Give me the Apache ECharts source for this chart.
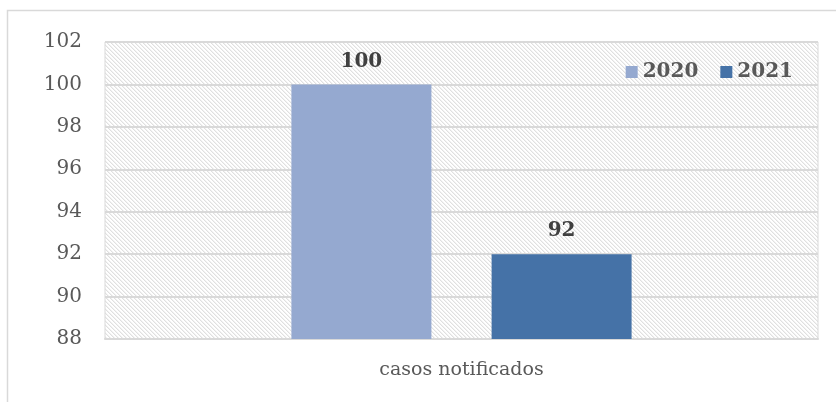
<!DOCTYPE html>
<html><head><meta charset="utf-8">
<script src="https://cdn.jsdelivr.net/npm/echarts@6/dist/echarts.min.js"></script>
<style>html,body{margin:0;padding:0;background:#fff}#c{width:836px;height:402px}</style>
</head><body><div id="c"></div>
<script>
var categories = ['casos notificados'];
var seriesNames = ['2020', '2021'];
var values2020 = [100];
var values2021 = [92];
var yTicks = [88, 90, 92, 94, 96, 98, 100, 102];

var pc = document.createElement('canvas');
pc.width = 8; pc.height = 8;
var ctx = pc.getContext('2d');
ctx.fillStyle = '#ffffff'; ctx.fillRect(0,0,8,8);
ctx.fillStyle = '#e0e0e0';
for (var i = 0; i < 8; i++) { ctx.fillRect(i, i, 1, 1); ctx.fillRect((i+4)%8, i, 1, 1); }
ctx.fillStyle = '#f2f2f2';
for (var i = 0; i < 8; i++) { ctx.fillRect((i+1)%8, i, 1, 1); ctx.fillRect((i+5)%8, i, 1, 1); }

var font = '"DejaVu Serif", "Liberation Serif", serif';
var chart = echarts.init(document.getElementById('c'));
chart.setOption({
  animation: false,
  graphic: [{type:'rect', shape:{x:7.5,y:10.5,width:860,height:420}, style:{fill:'none', stroke:'#d9d9d9', lineWidth:1.5}, z:-10}],
  grid: {left:105, right:18, top:42, bottom:63, show:true, backgroundColor:{image:pc, repeat:'repeat'}, borderColor:'#d9d9d9', borderWidth:1},
  legend: {right: 38, top: 57, itemWidth: 12, itemHeight: 12, itemGap: 22, icon:'rect',
    textStyle:{fontFamily:font, fontWeight:'bold', fontSize:20, color:'#595959'}, data: seriesNames},
  xAxis: {type:'category', data: categories, axisTick:{show:false},
    axisLine:{lineStyle:{color:'#d9d9d9', width:2}},
    axisLabel:{fontFamily:font, fontSize:19, color:'#595959', margin:22}},
  yAxis: {type:'value', min: yTicks[0], max: yTicks[yTicks.length-1], interval: 2,
    axisLine:{show:false}, axisTick:{show:false},
    splitLine:{lineStyle:{color:'#d9d9d9', width:2}},
    axisLabel:{fontFamily:font, fontSize:20, color:'#595959', margin:23}},
  series: [
    {name: seriesNames[0], type:'bar', data: values2020, barWidth:140, barGap:'43%', itemStyle:{color:'#95a9d0'},
     label:{show:true, position:'top', distance:13, fontFamily:font, fontWeight:'bold', fontSize:20, color:'#404040'}},
    {name: seriesNames[1], type:'bar', data: values2021, barWidth:140, itemStyle:{color:'#4572a7'},
     label:{show:true, position:'top', distance:13, fontFamily:font, fontWeight:'bold', fontSize:20, color:'#404040'}}
  ]
});
</script></body></html>
